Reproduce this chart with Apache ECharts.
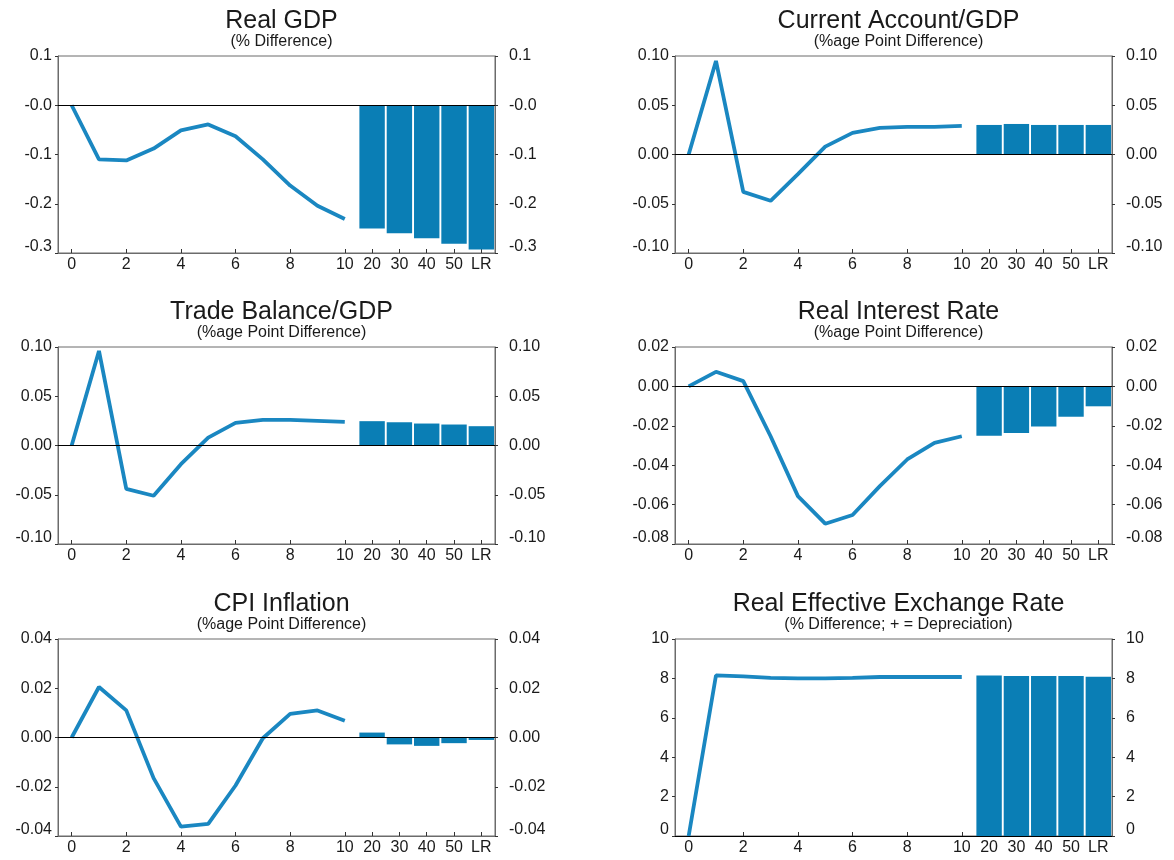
<!DOCTYPE html>
<html>
<head>
<meta charset="utf-8">
<script src="https://cdn.jsdelivr.net/npm/echarts@6/dist/echarts.min.js"></script>
<style>
html,body{margin:0;padding:0;background:#fff;}
#c{width:1174px;height:860px;}
</style>
</head>
<body>
<div id="c"></div>
<script>
// Categories: quarters 0..10 then long-horizon bars
const categories = ['0','1','2','3','4','5','6','7','8','9','10','20','30','40','50','LR'];

// Line values (periods 0..10)
const gdpLine   = [0, -0.110, -0.112, -0.088, -0.051, -0.039, -0.063, -0.110, -0.163, -0.204, -0.231];
const caLine    = [0, 0.095, -0.038, -0.047, -0.020, 0.008, 0.022, 0.027, 0.028, 0.028, 0.029];
const tbLine    = [0, 0.096, -0.044, -0.051, -0.019, 0.008, 0.023, 0.026, 0.026, 0.025, 0.024];
const rirLine   = [0, 0.0074, 0.0027, -0.0253, -0.0557, -0.0697, -0.0653, -0.0506, -0.0371, -0.0287, -0.0253];
const cpiLine   = [0, 0.0205, 0.011, -0.0165, -0.0362, -0.0351, -0.0195, -0.0003, 0.0096, 0.011, 0.0068];
const reerLine  = [0, 8.15, 8.10, 8.03, 8.00, 8.00, 8.03, 8.07, 8.07, 8.07, 8.07];

// Bar values (20, 30, 40, 50, LR)
const gdpBars  = [-0.250, -0.260, -0.270, -0.281, -0.293];
const caBars   = [0.030, 0.031, 0.030, 0.030, 0.030];
const tbBars   = [0.0247, 0.0236, 0.0223, 0.0213, 0.0196];
const rirBars  = [-0.0250, -0.0236, -0.0203, -0.0154, -0.0101];
const cpiBars  = [0.0020, -0.0028, -0.0034, -0.0023, -0.0010];
const reerBars = [8.15, 8.12, 8.12, 8.12, 8.08];

// Titles and axis settings
const titles = ['Real GDP', 'Current Account/GDP', 'Trade Balance/GDP', 'Real Interest Rate', 'CPI Inflation', 'Real Effective Exchange Rate'];
const subtitles = ['(% Difference)', '(%age Point Difference)', '(%age Point Difference)', '(%age Point Difference)', '(%age Point Difference)', '(% Difference; + = Depreciation)'];
const yMins = [-0.3, -0.10, -0.10, -0.08, -0.04, 0];
const yMaxs = [0.1, 0.10, 0.10, 0.02, 0.04, 10];
const yIntervals = [0.1, 0.05, 0.05, 0.02, 0.02, 2];
const yDecimals = [1, 2, 2, 2, 2, 0];

const lines = [gdpLine, caLine, tbLine, rirLine, cpiLine, reerLine];
const bars = [gdpBars, caBars, tbBars, rirBars, cpiBars, reerBars];

const LINE_COLOR = '#1a87c1';
const BAR_COLOR = '#0a7eb5';
const AXIS_COLOR = '#6b6b6b';
const TEXT_COLOR = '#1a1a1a';
const FONT = 'Liberation Sans, Arial, sans-serif';

const colLeft = [58, 675];
const rowTop = [56, 347, 639];
const gw = 437, gh = 197;

const shownIdx = (i) => (i <= 10 && i % 2 === 0) || i >= 11;

function makeFmt(k) {
  const d = yDecimals[k];
  const mn = yMins[k];
  return function (v) {
    let s;
    if (Math.abs(v) < 1e-9) {
      s = (k === 0) ? '-0.0' : (0).toFixed(d);
    } else {
      s = v.toFixed(d);
    }
    if (Math.abs(v - mn) < 1e-9) return '{lo|' + s + '}';
    return s;
  };
}

const option = {
  animation: false,
  backgroundColor: '#fff',
  title: [], grid: [], xAxis: [], yAxis: [], series: []
};

for (let k = 0; k < 6; k++) {
  const col = k % 2, row = Math.floor(k / 2);
  const left = colLeft[col], top = rowTop[row];
  option.title.push({
    text: titles[k], subtext: subtitles[k],
    left: left + gw / 2, top: top - 52, textAlign: 'center', itemGap: 0,
    textStyle: { fontFamily: FONT, fontSize: 25, fontWeight: 'normal', color: TEXT_COLOR },
    subtextStyle: { fontFamily: FONT, fontSize: 16, color: TEXT_COLOR }
  });
  option.grid.push({
    left: left, top: top, width: gw, height: gh,
    show: true, borderColor: AXIS_COLOR, borderWidth: 1, containLabel: false
  });
  option.xAxis.push({
    type: 'category', gridIndex: k, data: categories, boundaryGap: true, position: 'bottom',
    axisLine: { onZero: false, lineStyle: { color: AXIS_COLOR } },
    axisTick: { show: true, inside: true, length: 4, alignWithLabel: true,
      interval: (i) => shownIdx(i), lineStyle: { color: '#333' } },
    axisLabel: { interval: (i) => shownIdx(i), fontFamily: FONT, fontSize: 16, color: TEXT_COLOR, margin: 4 },
    splitLine: { show: false }
  });
  const rich = { lo: { padding: [0, 0, 12, 0], fontFamily: FONT, fontSize: 16, color: TEXT_COLOR } };
  const yCommon = {
    type: 'value', gridIndex: k, min: yMins[k], max: yMaxs[k], interval: yIntervals[k],
    axisLine: { show: true, onZero: false, lineStyle: { color: AXIS_COLOR } },
    axisTick: { show: true, length: 3, lineStyle: { color: '#333' } },
    splitLine: { show: false }
  };
  option.yAxis.push(Object.assign({}, yCommon, {
    position: 'left',
    axisLabel: { formatter: makeFmt(k), fontFamily: FONT, fontSize: 16, color: TEXT_COLOR, margin: 6, rich: rich }
  }));
  option.yAxis.push(Object.assign({}, yCommon, {
    position: 'right',
    axisLabel: { formatter: makeFmt(k), fontFamily: FONT, fontSize: 16, color: TEXT_COLOR, margin: 14, rich: rich }
  }));
  const barData = new Array(11).fill('-').concat(bars[k]);
  option.series.push({
    type: 'bar', xAxisIndex: k, yAxisIndex: 2 * k, data: barData,
    barCategoryGap: '7%', itemStyle: { color: BAR_COLOR }, z: 2
  });
  option.series.push({
    type: 'line', xAxisIndex: k, yAxisIndex: 2 * k, data: lines[k],
    showSymbol: false, symbol: 'none',
    lineStyle: { color: LINE_COLOR, width: 3.8 }, z: 3,
    markLine: {
      silent: true, symbol: ['none', 'none'], label: { show: false },
      lineStyle: { color: '#000', width: 1, type: 'solid' },
      data: [{ yAxis: 0 }], z: 4
    }
  });
}

const chart = echarts.init(document.getElementById('c'), null, { renderer: 'canvas' });
chart.setOption(option);
</script>
</body>
</html>
